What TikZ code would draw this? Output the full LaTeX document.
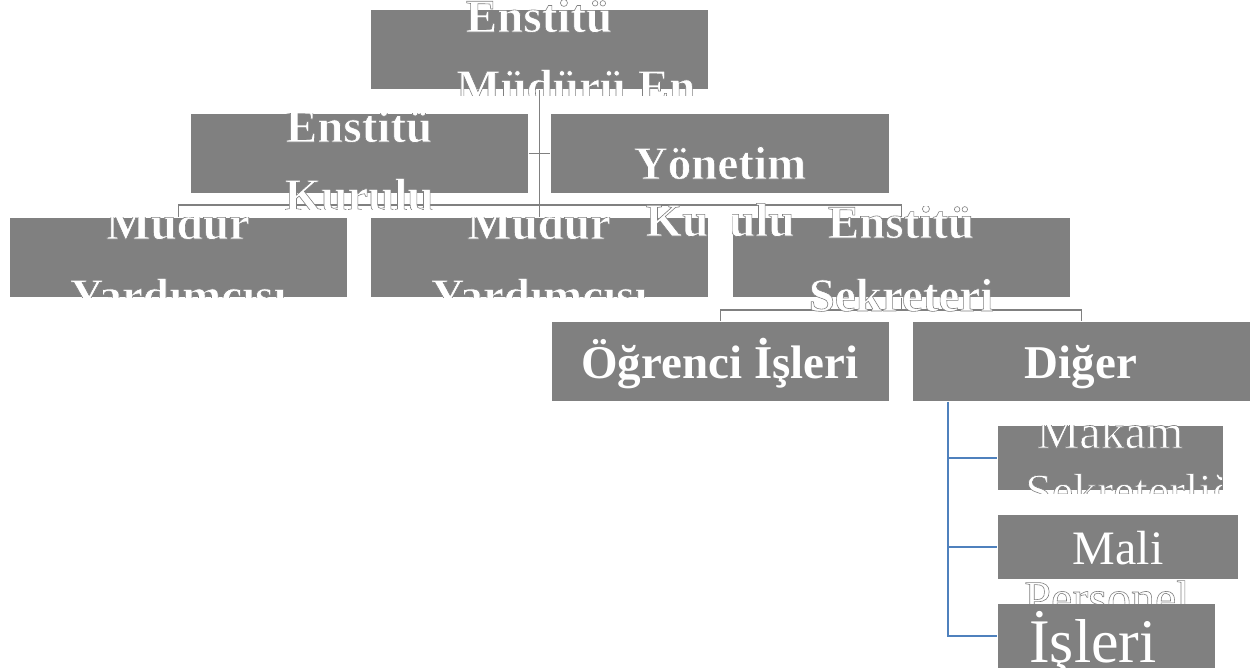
\documentclass[tikz,border=0pt]{standalone}
\usepackage{fontspec}
\setmainfont{Liberation Serif}
\definecolor{boxgray}{RGB}{128,128,128}
\definecolor{linegray}{RGB}{128,128,128}
\definecolor{blueline}{RGB}{79,129,189}
\newcommand\outl[1]{\special{pdf:code q 2 Tr 0.5 0.5 0.5 RG 0.6 w}#1\special{pdf:code Q}}
\tikzset{
  box/.style={fill=boxgray, draw=white, line width=0.6pt, inner sep=0pt, anchor=north west},
  bt/.style={text=white, inner sep=0pt, anchor=base, font=\bfseries\fontsize{47}{47}\selectfont},
  rt/.style={text=white, inner sep=0pt, anchor=base, font=\fontsize{48}{48}\selectfont},
  conn/.style={draw=linegray, line width=1.4pt},
  bconn/.style={draw=blueline, line width=2pt},
}
\begin{document}
\begin{tikzpicture}[x=1pt,y=-1pt]
\useasboundingbox (0,0) rectangle (1253,667);
% boxes
\node[box, minimum width=338pt, minimum height=80pt] (top) at (370,9) {};
\node[box, minimum width=338pt, minimum height=80pt] (kurul) at (190,113) {};
\node[box, minimum width=339pt, minimum height=80pt] (yon) at (550,113) {};
\node[box, minimum width=338pt, minimum height=80pt] (ra) at (9,217) {};
\node[box, minimum width=338pt, minimum height=80pt] (rb) at (370,217) {};
\node[box, minimum width=338pt, minimum height=80pt] (rc) at (732,217) {};
\node[box, minimum width=338pt, minimum height=80pt] (ogr) at (551,321) {};
\node[box, minimum width=338pt, minimum height=80pt] (dig) at (912,321) {};
\node[box, minimum width=226pt, minimum height=65pt] (makam) at (997,425) {};
\node[box, minimum width=241pt, minimum height=65pt] (mali) at (997,514) {};
\node[box, minimum width=218pt, minimum height=66pt] (pers) at (997,603) {};
% connectors
\coordinate (bar) at (0,205);
\coordinate (bar2) at (0,310);
\coordinate (bx) at (948,0);
\draw[conn] (top.south) -- (top.south |- bar) -- (rb.north);
\draw[conn] (kurul.east) -- (yon.west);
\draw[conn] (ra.north) -- (ra.north |- bar) -- (rc.north |- bar) -- (rc.north);
\draw[conn] (rc.south) -- (rc.south |- bar2);
\draw[conn] (ogr.north) -- (ogr.north |- bar2) -- (dig.north |- bar2) -- (dig.north);
\draw[bconn] (dig.south -| bx) -- (bx |- pers.west) -- (pers.west);
\draw[bconn] (bx |- makam.west) -- (makam.west);
\draw[bconn] (bx |- mali.west) -- (mali.west);
% texts
\begin{scope}
  \clip (365,-5) rectangle (712,95);
  \node[bt] (t1) at (539,32) {\outl{Enstitü}};
  \node[bt, anchor=base west] (t2) at (456,102) {\outl{Müdürü En}};
\end{scope}
\begin{scope}
  \clip (190,113) rectangle (530,209);
  \node[bt] (k1) at (359,142) {\outl{Enstitü}};
  \node[bt] (k2) at (359,211) {\outl{Kurulu}};
\end{scope}
\begin{scope}
  \clip (550,113) rectangle (889,193);
  \node[bt] (y1) at (720,179) {\outl{Yönetim}};
\end{scope}
\begin{scope}
  \clip (630,197) rectangle (708,250) (732,197) rectangle (810,250);
  \node[bt] (y2) at (720,236) {\outl{Kurulu}};
\end{scope}
\begin{scope}
  \clip (9,217) rectangle (347,297);
  \node[bt] (a1) at (178,239) {\outl{Müdür}};
  \node[bt] (a2) at (178,311) {\outl{Yardımcısı}};
\end{scope}
\begin{scope}
  \clip (370,217) rectangle (708,297);
  \node[bt] (b1) at (539,239) {\outl{Müdür}};
  \node[bt] (b2) at (539,311) {\outl{Yardımcısı}};
\end{scope}
\begin{scope}
  \clip (732,206) rectangle (1070,312);
  \node[bt] (c1) at (901,238) {\outl{Enstitü}};
  \node[bt] (c2) at (901,311) {\outl{Sekreteri}};
\end{scope}
\node[bt] (o1) at (720,378) {Öğrenci İşleri};
\node[bt] (d1) at (1081,378) {Diğer};
\begin{scope}
  \clip (997,425) rectangle (1222,493);
  \node[rt] (m1) at (1110,448) {\outl{Makam}};
  \node[rt, anchor=base west] (m2) at (1025,507) {\outl{Sekreterliği}};
\end{scope}
\node[rt] (l1) at (1118,564) {Mali};
\begin{scope}
  \clip (997,579) rectangle (1238,603);
  \node[rt] (p1) at (1107,614) {\outl{Personel}};
\end{scope}
\begin{scope}
  \clip (997,603) rectangle (1215,667);
  \node[rt, font=\fontsize{62}{62}\selectfont] (p2) at (1093,662) {İşleri};
\end{scope}
\end{tikzpicture}
\end{document}
